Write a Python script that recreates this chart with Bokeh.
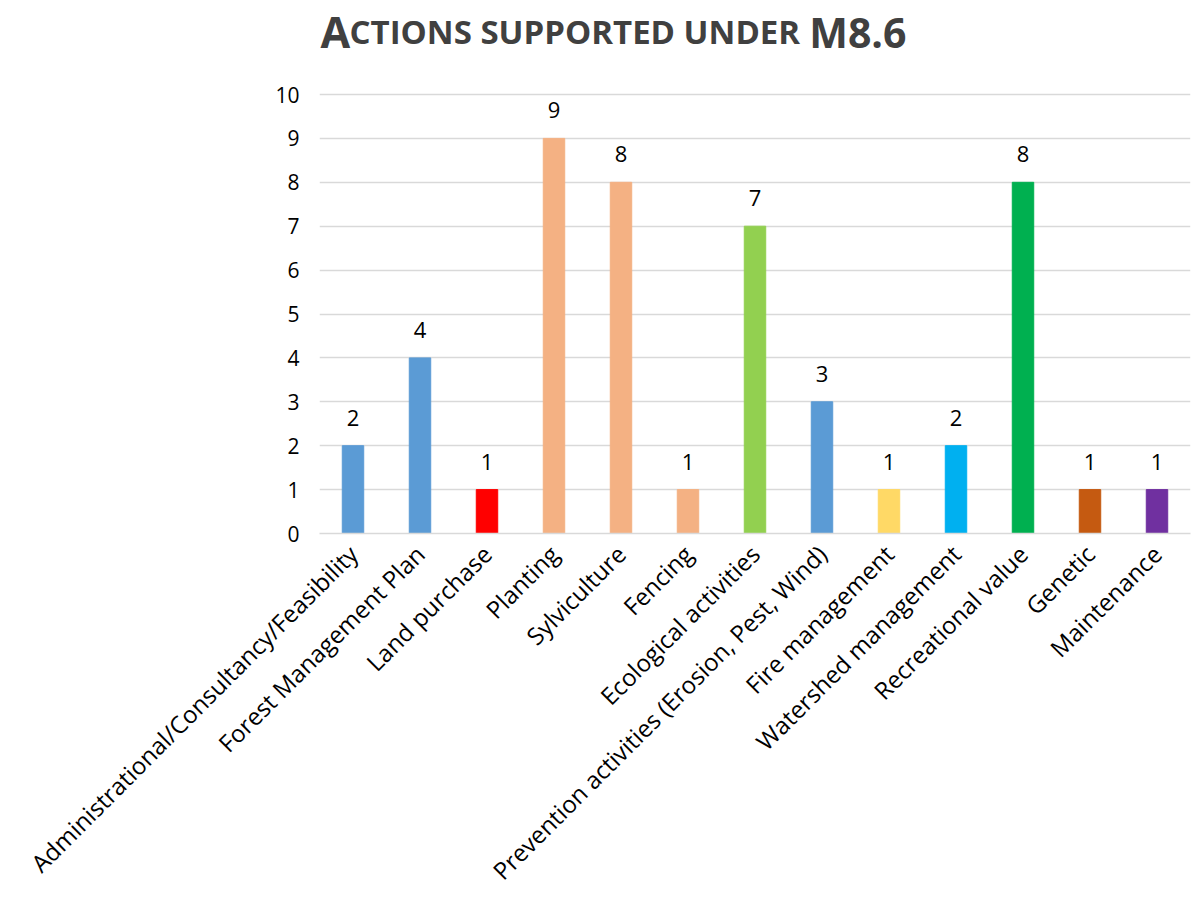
import math
from bokeh.plotting import figure
from bokeh.models import ColumnDataSource, FixedTicker
from bokeh.core.properties import value
from bokeh.embed import file_html
from bokeh.resources import INLINE

categories = [
    "Administrational/Consultancy/Feasibility",
    "Forest Management Plan",
    "Land purchase",
    "Planting",
    "Sylviculture",
    "Fencing",
    "Ecological activities",
    "Prevention activities (Erosion, Pest, Wind)",
    "Fire management",
    "Watershed management",
    "Recreational value",
    "Genetic",
    "Maintenance",
]
counts = [2, 4, 1, 9, 8, 1, 7, 3, 1, 2, 8, 1, 1]
bar_colors = ["#5B9BD5", "#5B9BD5", "#FF0000", "#F4B183", "#F4B183", "#F4B183",
              "#92D050", "#5B9BD5", "#FFD966", "#00B0F0", "#00B050", "#C55A11", "#7030A0"]
y_ticks = [0, 1, 2, 3, 4, 5, 6, 7, 8, 9, 10]

title_parts = ["A", "CTIONS SUPPORTED UNDER", "M8.6"]

FONT = "Open Sans"
TITLE_COLOR = "#404040"

# frame: canvas rows 0..533, value 10 sits at row 94 -> extend the range above 10
Y_TOP = 10 + 94 / 43.9
TITLE_Y = 10 + (94 - 31) / 43.9

src = ColumnDataSource(dict(cat=categories, val=counts, col=bar_colors,
                            lab=[str(v) for v in counts]))

p = figure(width=1194, height=909, x_range=categories, y_range=(0, Y_TOP),
           output_backend="svg", toolbar_location=None,
           min_border_left=319, min_border_right=4, min_border_top=0,
           min_border_bottom=376)
p.outline_line_color = None
p.background_fill_color = "white"
p.border_fill_color = "white"

p.vbar(x="cat", top="val", width=0.32, color="col", source=src)
p.text(x="cat", y="val", text="lab", source=src, text_align="center",
       text_baseline="middle", y_offset=-28, text_font=value(FONT),
       text_font_size="22px", text_color="#000000")

# title with emulated small caps
p.text(x=[0], y=[TITLE_Y], text=[title_parts[0]], x_offset=1, text_align="left",
       text_baseline="alphabetic", text_font=value(FONT), text_font_style="bold",
       text_font_size="43px", text_color=TITLE_COLOR)
p.text(x=[0], y=[TITLE_Y], text=[title_parts[1]], x_offset=30, text_align="left",
       text_baseline="alphabetic", text_font=value(FONT), text_font_style="bold",
       text_font_size="33px", text_color=TITLE_COLOR)
p.text(x=[0], y=[TITLE_Y], text=[title_parts[2]], x_offset=587, text_align="right",
       text_baseline="alphabetic", text_font=value(FONT), text_font_style="bold",
       text_font_size="41px", text_color=TITLE_COLOR)

p.xgrid.grid_line_color = None
p.ygrid.grid_line_color = "#D9D9D9"
p.ygrid.grid_line_width = 1.5
p.yaxis.ticker = FixedTicker(ticks=y_ticks)
p.yaxis.axis_line_color = None
p.yaxis.major_tick_line_color = None
p.yaxis.minor_tick_line_color = None
p.yaxis.major_label_text_font = FONT
p.yaxis.major_label_text_font_size = "21px"
p.yaxis.major_label_text_color = "#000000"
p.yaxis.major_label_standoff = 14

p.xaxis.axis_line_color = "#D9D9D9"
p.xaxis.axis_line_width = 1.5
p.xaxis.major_tick_line_color = None
p.xaxis.minor_tick_line_color = None
p.xaxis.major_label_orientation = math.pi / 4
p.xaxis.major_label_text_font = FONT
p.xaxis.major_label_text_font_size = "24px"
p.xaxis.major_label_text_color = "#000000"
p.xaxis.major_label_standoff = 10

open("out.html", "w").write(file_html(p, INLINE))
